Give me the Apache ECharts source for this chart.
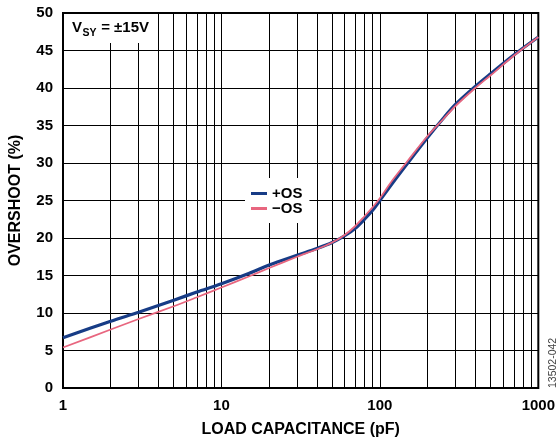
<!DOCTYPE html>
<html>
<head>
<meta charset="utf-8">
<script src="https://cdn.jsdelivr.net/npm/echarts@6/dist/echarts.min.js"></script>
<style>
  html, body { margin: 0; padding: 0; background: #fff; }
  #chart { width: 558px; height: 444px; }
</style>
</head>
<body>
<div id="chart"></div>
<script>
// load capacitance (pF) and overshoot (%)
var capacitance = [1, 2, 3, 5, 7, 10, 15, 20, 30, 40, 50, 60, 70, 80, 90, 100, 120, 150, 200, 250, 300, 400, 500, 700, 1000];
var posOS = [6.7, 8.9, 10.1, 11.7, 12.8, 13.9, 15.3, 16.4, 17.7, 18.6, 19.4, 20.3, 21.3, 22.5, 23.7, 25.0, 27.3, 30.0, 33.4, 35.9, 37.8, 40.2, 41.9, 44.4, 46.8];
var negOS = [5.4, 7.8, 9.2, 10.9, 12.1, 13.4, 14.9, 16.0, 17.5, 18.5, 19.4, 20.4, 21.6, 22.9, 24.1, 25.3, 27.7, 30.3, 33.6, 35.8, 37.6, 40.0, 41.7, 44.3, 46.8];
var xTickLabels = ['1', '10', '100', '1000'];
var minorGrid = [2, 3, 4, 5, 6, 7, 8, 9, 20, 30, 40, 50, 60, 70, 80, 90, 200, 300, 400, 500, 600, 700, 800, 900];
var seriesNames = ['+OS', '\u2212OS'];

var FONT = '"Liberation Sans", Arial, Helvetica, sans-serif';

function pairs(ys) {
  return capacitance.map(function (c, i) { return [c, ys[i]]; });
}

var chart = echarts.init(document.getElementById('chart'));
chart.setOption({
  animation: false,
  grid: {
    left: 63, right: 18, top: 13, bottom: 56,
    show: true, borderColor: '#000', borderWidth: 2, backgroundColor: '#fff'
  },
  legend: {
    data: seriesNames,
    orient: 'vertical',
    left: 245, top: 178, z: 20,
    padding: [8, 7, 7, 6],
    itemGap: 0,
    itemWidth: 16, itemHeight: 3,
    icon: 'rect',
    backgroundColor: '#fff',
    textStyle: { fontFamily: FONT, fontWeight: 'bold', fontSize: 15, lineHeight: 13, color: '#000' }
  },
  xAxis: {
    type: 'log', logBase: 10, min: 1, max: 1000,
    name: 'LOAD CAPACITANCE (pF)', nameLocation: 'middle', nameGap: 34,
    nameTextStyle: { fontFamily: FONT, fontWeight: 'bold', fontSize: 16, color: '#000' },
    axisLine: { show: false },
    axisTick: { show: false },
    axisLabel: {
      margin: 10, fontFamily: FONT, fontWeight: 'bold', fontSize: 15, color: '#000',
      formatter: function (v) {
        var i = Math.round(Math.log10(v));
        return xTickLabels[i] || '';
      }
    },
    splitLine: { show: true, lineStyle: { color: '#000', width: 1 } }
  },
  yAxis: {
    type: 'value', min: 0, max: 50, interval: 5,
    name: 'OVERSHOOT (%)', nameLocation: 'middle', nameGap: 39,
    nameTextStyle: { fontFamily: FONT, fontWeight: 'bold', fontSize: 16, color: '#000' },
    axisLine: { show: false },
    axisTick: { show: false },
    axisLabel: { margin: 10, fontFamily: FONT, fontWeight: 'bold', fontSize: 15, color: '#000' },
    splitLine: { show: true, lineStyle: { color: '#000', width: 1 } }
  },
  series: [
    {
      name: 'grid', type: 'line', data: [], z: 1, silent: true,
      markLine: {
        z: 1, silent: true, symbol: 'none', animation: false,
        label: { show: false },
        lineStyle: { color: '#000', width: 1, type: 'solid' },
        data: minorGrid.map(function (v) { return { xAxis: v }; })
      }
    },
    {
      name: seriesNames[0], type: 'line', data: pairs(posOS),
      smooth: 0.3, symbol: 'none', z: 3,
      itemStyle: { color: '#173c86' },
      lineStyle: { color: '#173c86', width: 3.2 }
    },
    {
      name: seriesNames[1], type: 'line', data: pairs(negOS),
      smooth: 0.3, symbol: 'none', z: 4,
      itemStyle: { color: '#e8667f' },
      lineStyle: { color: '#e8667f', width: 1.8 }
    }
  ],
  graphic: [
    {
      type: 'rect', z: 100, left: 64, top: 14,
      shape: { width: 92, height: 29 },
      style: { fill: '#fff' }
    },
    {
      type: 'text', z: 101, x: 72, y: 20,
      style: { text: 'V', fontFamily: FONT, fontWeight: 'bold', fontSize: 15, fill: '#000' }
    },
    {
      type: 'text', z: 101, x: 82.5, y: 28,
      style: { text: 'SY', fontFamily: FONT, fontWeight: 'bold', fontSize: 10.5, fill: '#000' }
    },
    {
      type: 'text', z: 101, x: 97, y: 20,
      style: { text: ' = \u00b115V', fontFamily: FONT, fontWeight: 'bold', fontSize: 15, fill: '#000' }
    },
    {
      type: 'text', z: 101, x: 548, y: 388, rotation: Math.PI / 2,
      style: { text: '13502-042', fontFamily: FONT, fontSize: 10.5, fill: '#444' }
    }
  ]
});
</script>
</body>
</html>
